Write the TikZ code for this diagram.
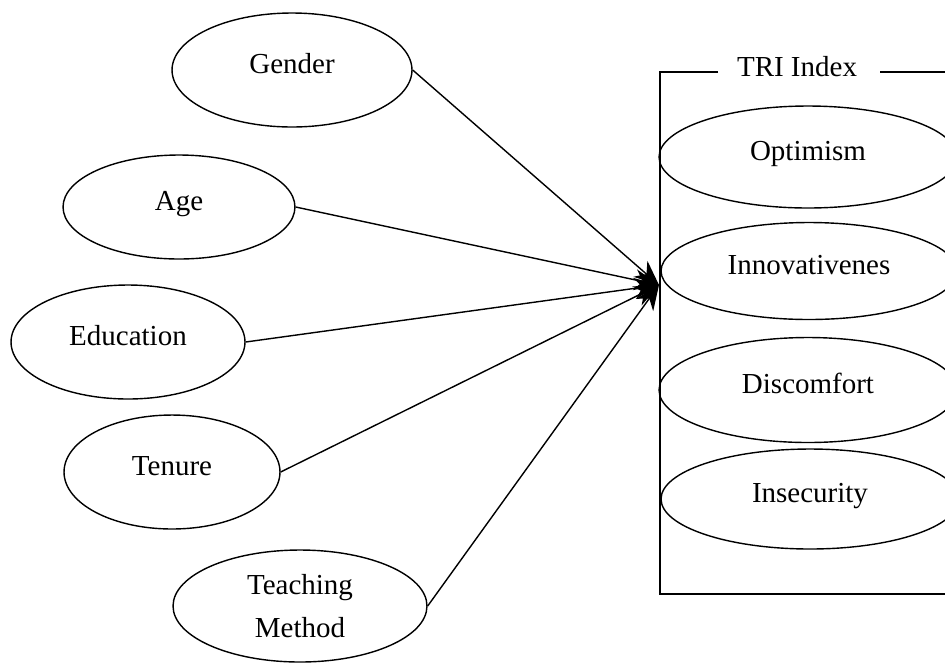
\documentclass[tikz,border=0pt]{standalone}
\usepackage{fontspec}
\setmainfont{Liberation Serif}
\usetikzlibrary{shapes.geometric,arrows.meta}

\begin{document}
\begin{tikzpicture}[
    x=0.02cm, y=-0.02cm,
    every node/.style={
        font=\fontsize{16.5}{24}\selectfont,
        },
    factor/.style={
        draw,
        ellipse,
        thick,
        inner sep = 0pt,
        align = center,
        },
    word/.style={
        factor,
        text height = 12pt,
        text depth = 8pt,
        },
    link/.style={
        thick,
        -{Stealth[length=14pt, width=12pt]},
        },
]

\clip (0,0) rectangle (945,664);

% left side
\node[word,   minimum width=4.8cm,  minimum height=2.28cm] (gender)    at (292,70)  {Gender};
\node[word,   minimum width=4.64cm, minimum height=2.08cm] (age)       at (179,207) {Age};
\node[word,   minimum width=4.68cm, minimum height=2.28cm] (education) at (128,342) {Education};
\node[word,   minimum width=4.32cm, minimum height=2.28cm] (tenure)    at (172,472) {Tenure};
\node[factor, minimum width=5.08cm, minimum height=2.24cm] (method)    at (300,606) {Teaching\\Method};

% right side
\coordinate (hub) at (659,285);

\draw[thick] (718,72) -- (660,72) -- (660,594) -- (960,594);
\draw[thick] (880,72) -- (960,72);
\node (tri) at (797,67) {TRI Index};

\node[word, minimum width=5.96cm, minimum height=2.04cm] (optimism)   at (808,157) {Optimism};
\node[word, minimum width=5.92cm, minimum height=1.94cm] (innovative) at (809,271) {Innovativenes};
\node[word, minimum width=5.96cm, minimum height=2.1cm]  (discomfort) at (808,390) {Discomfort};
\node[word, minimum width=5.96cm, minimum height=2.0cm]  (insecurity) at (810,499) {Insecurity};

\foreach \src in {gender,age,education,tenure,method}
    \draw[link] (\src.east) -- (hub);

\end{tikzpicture}
\end{document}
